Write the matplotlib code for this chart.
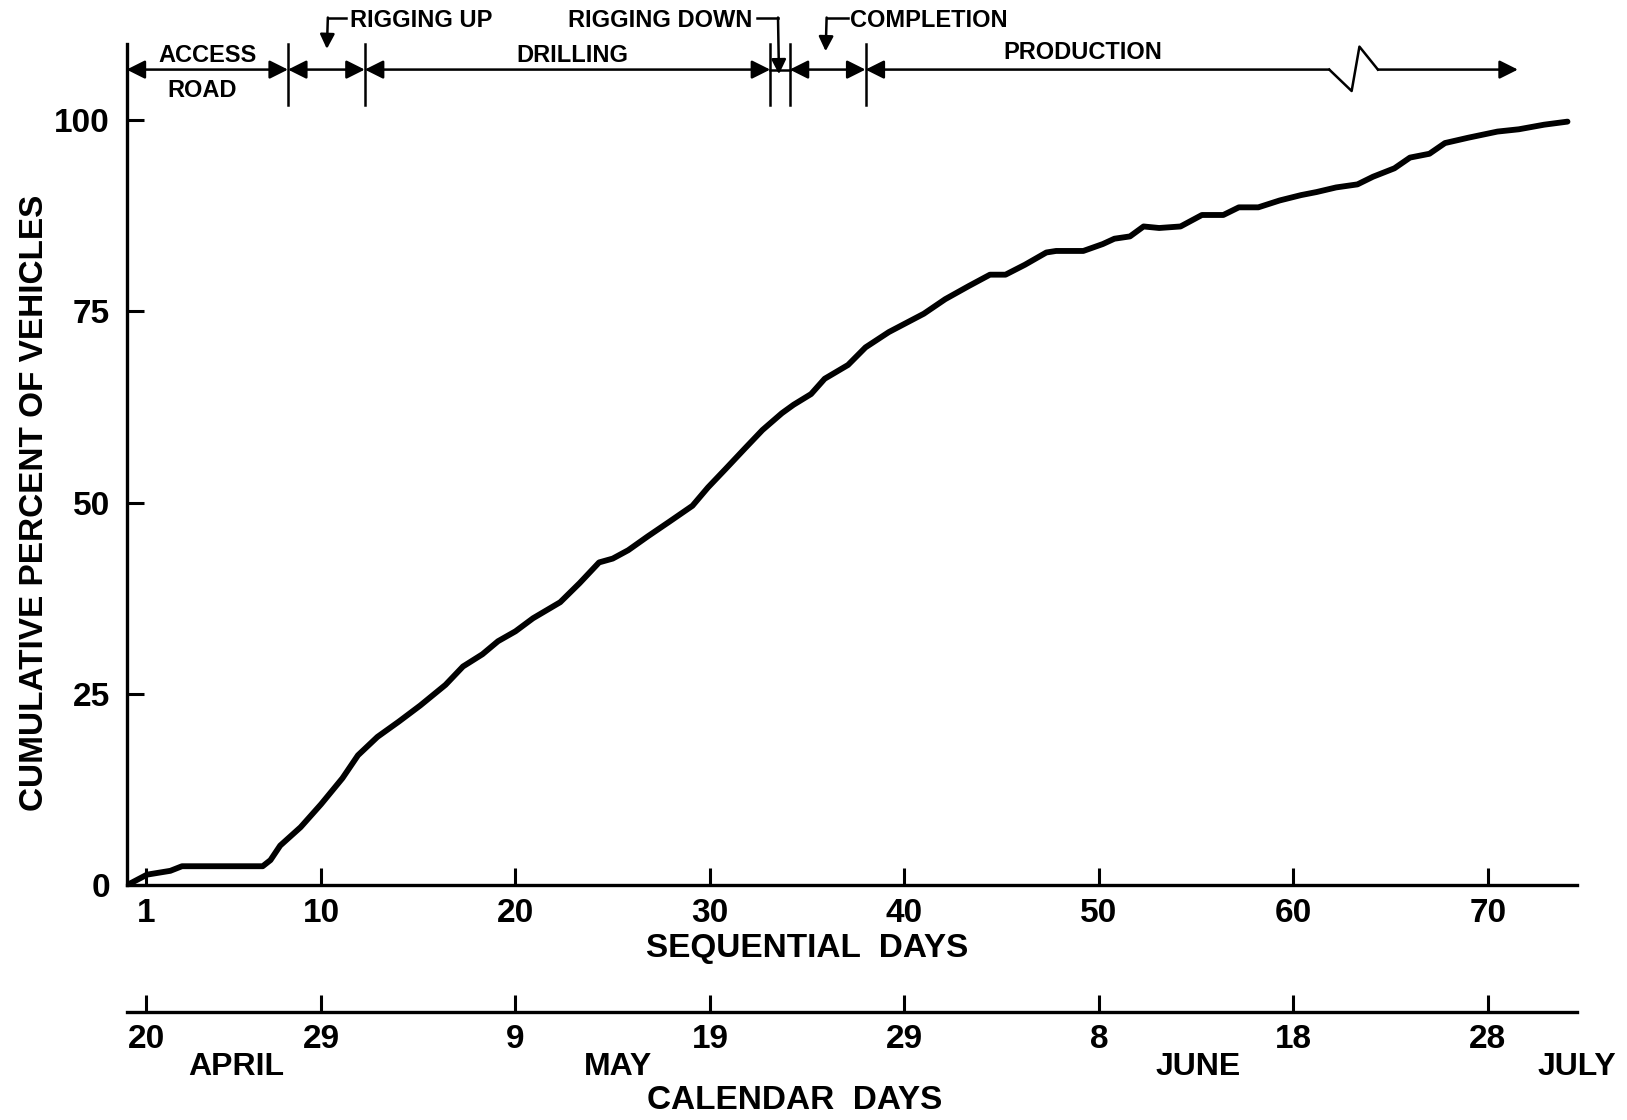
import numpy as np
import matplotlib.pyplot as plt

plt.rcParams['font.family'] = ['Liberation Sans', 'DejaVu Sans']
plt.rcParams['font.weight'] = 'bold'

# cumulative traffic curve
days = [0, 1.05, 2.25, 2.85, 7.0, 7.4, 7.9, 8.95, 10.0, 11.1,
        11.9, 12.9, 14.0, 15.1, 16.4, 17.3, 18.3, 19.1, 20.0, 20.9,
        22.3, 23.3, 24.3, 25.0, 25.8, 26.8, 27.9, 29.1, 29.9, 30.8,
        31.8, 32.7, 33.7, 34.3, 35.2, 35.9, 37.1, 38.0, 39.2, 40.4,
        41.0, 42.1, 43.3, 44.4, 45.2, 46.2, 47.3, 47.8, 49.2, 50.2,
        50.8, 51.6, 52.3, 53.1, 54.2, 55.3, 56.4, 57.2, 58.2, 59.3,
        60.4, 61.2, 62.2, 63.3, 64.1, 65.2, 66.0, 67.0, 67.8, 69.0,
        70.5, 71.6, 72.9, 74.1]
pct = [0, 1.4, 1.9, 2.5, 2.5, 3.3, 5.2, 7.6, 10.6, 14.0,
       17.0, 19.4, 21.4, 23.5, 26.2, 28.6, 30.2, 31.9, 33.2, 34.9,
       37.0, 39.5, 42.2, 42.7, 43.8, 45.6, 47.5, 49.6, 52.0, 54.4,
       57.1, 59.5, 61.7, 62.8, 64.2, 66.2, 68.0, 70.3, 72.3, 73.9,
       74.7, 76.6, 78.3, 79.8, 79.8, 81.1, 82.7, 82.9, 82.9, 83.8,
       84.5, 84.8, 86.1, 85.9, 86.1, 87.6, 87.6, 88.6, 88.6, 89.5,
       90.2, 90.6, 91.2, 91.6, 92.6, 93.7, 95.1, 95.6, 97.0, 97.7,
       98.5, 98.8, 99.4, 99.8]

seq_ticks = [1, 10, 20, 30, 40, 50, 60, 70]
cal_labels = ["20", "29", "9", "19", "29", "8", "18", "28"]
months = ["APRIL", "MAY", "JUNE", "JULY"]
month_pos = [5.65, 25.25, 55.1, 74.6]
y_ticks = [0, 25, 50, 75, 100]

# activity phases (day boundaries)
bounds = [0, 8.3, 12.25, 33.1, 34.1, 38.0]
prod_end = 71.55

fig = plt.figure(figsize=(16.27, 11.2), dpi=100)
ax = fig.add_axes([0.0778, 0.2095, 0.8916, 0.7516])

ax.plot(days, pct, color='black', lw=4.2, solid_joinstyle='round', solid_capstyle='round')

ax.set_xlim(0, 74.6)
ax.set_ylim(0, 110)
for s in ['top', 'right']:
    ax.spines[s].set_visible(False)
for s in ['left', 'bottom']:
    ax.spines[s].set_linewidth(2.4)
ax.set_xticks(seq_ticks)
ax.set_yticks(y_ticks)
ax.tick_params(direction='in', length=12, width=2.2, labelsize=24, pad=12)
ax.tick_params(axis='x', pad=9)

ax.text(0.469, -0.0752, "SEQUENTIAL  DAYS", transform=ax.transAxes,
        ha='center', va='center', fontsize=24)
ax.text(-0.0637, 50, "CUMULATIVE PERCENT OF VEHICLES",
        transform=ax.get_yaxis_transform(), rotation=90,
        ha='center', va='center', fontsize=24)

# calendar axis below
cal = ax.secondary_xaxis(-0.1504)
cal.set_xticks(seq_ticks)
cal.set_xticklabels(cal_labels)
cal.spines['bottom'].set_linewidth(2.4)
cal.tick_params(direction='in', length=12, width=2.2, labelsize=24, pad=9)
trans = ax.get_xaxis_transform()
for m, p in zip(months, month_pos):
    ax.text(p, -0.2158, m, transform=trans, ha='center', va='center', fontsize=23, clip_on=False)
ax.text(0.4607, -0.2552, "CALENDAR  DAYS", transform=ax.transAxes,
        ha='center', va='center', fontsize=24)

# phase annotations on top
ya = 106.6
ap = dict(arrowstyle='<|-|>', color='black', lw=1.8, mutation_scale=28,
          shrinkA=0, shrinkB=0)
for x in bounds[1:]:
    ax.plot([x, x], [102.0, 110.0], color='black', lw=1.8, clip_on=False)
for a, b in zip(bounds[:-1], bounds[1:]):
    if b - a > 2:
        ax.annotate('', xy=(b, ya), xytext=(a, ya), arrowprops=ap, annotation_clip=False)
    else:
        ax.plot([a, b], [ya, ya], color='black', lw=1.8)

# production arrow with break mark
ax.annotate('', xy=(61.85, ya), xytext=(bounds[-1], ya),
            arrowprops=dict(ap, arrowstyle='<|-'), annotation_clip=False)
ax.plot([61.85, 63.0, 63.4, 64.35], [ya, 103.8, 109.6, ya], color='black', lw=1.8, clip_on=False)
ax.annotate('', xy=(prod_end, ya), xytext=(64.35, ya),
            arrowprops=dict(ap, arrowstyle='-|>'), annotation_clip=False)

fs = 17
ax.text(4.16, 108.4, "ACCESS", ha='center', va='center', fontsize=fs)
ax.text(3.9, 103.9, "ROAD", ha='center', va='center', fontsize=fs)
ax.text(22.9, 108.5, "DRILLING", ha='center', va='center', fontsize=fs)
ax.text(49.2, 108.8, "PRODUCTION", ha='center', va='center', fontsize=fs)

yt = 113.0
ax.text(11.5, yt, "RIGGING UP", ha='left', va='center', fontsize=fs, clip_on=False)
ax.plot([11.3, 10.35], [113.4, 113.4], color='black', lw=1.8, clip_on=False)
ax.annotate('', xy=(10.3, 109.3), xytext=(10.35, 113.4),
            arrowprops=dict(ap, arrowstyle='-|>', mutation_scale=22), annotation_clip=False)

ax.text(32.2, yt, "RIGGING DOWN", ha='right', va='center', fontsize=fs, clip_on=False)
ax.plot([32.4, 33.5], [113.4, 113.4], color='black', lw=1.8, clip_on=False)
ax.annotate('', xy=(33.55, 106.0), xytext=(33.5, 113.4),
            arrowprops=dict(ap, arrowstyle='-|>', mutation_scale=22), annotation_clip=False)

ax.text(37.2, yt, "COMPLETION", ha='left', va='center', fontsize=fs, clip_on=False)
ax.plot([37.1, 36.0], [113.4, 113.4], color='black', lw=1.8, clip_on=False)
ax.annotate('', xy=(35.95, 109.0), xytext=(36.0, 113.4),
            arrowprops=dict(ap, arrowstyle='-|>', mutation_scale=22), annotation_clip=False)

fig.savefig("out.png", dpi=100)
